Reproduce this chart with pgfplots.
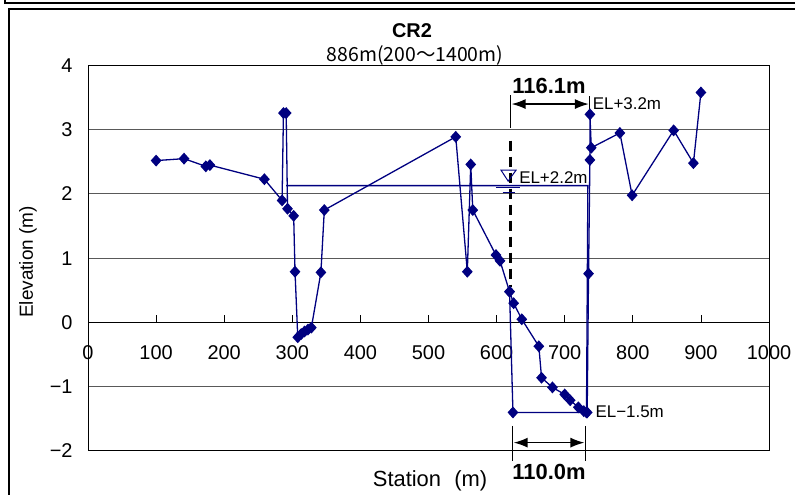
\documentclass[border=0pt]{standalone}
\usepackage{fontspec}
\setmainfont{Liberation Sans}
\newfontfamily\cjk{Noto Sans CJK JP}
\usepackage{pgfplots}
\pgfplotsset{compat=1.18}
\usetikzlibrary{arrows.meta}
\definecolor{navy}{RGB}{0,0,128}

\pgfplotstableread{
x y
100 2.52
141 2.55
173 2.43
179 2.45
259 2.23
285 1.90
287 3.26
291 3.26
293 1.77
302 1.66
304 0.79
308 -0.23
313 -0.18
318 -0.14
323 -0.11
328 -0.08
342 0.78
347 1.75
540 2.89
557 0.79
562 2.46
565 1.75
599 1.05
605 0.96
619 0.48
625 0.30
637 0.05
662 -0.37
666 -0.86
682 -1.01
700 -1.12
708 -1.21
720 -1.32
728 -1.38
733 -1.40
735 0.76
737 2.53
737 3.24
739 2.72
781 2.95
799 1.98
860 2.99
889 2.48
900 3.58
}\terrain

\pgfplotstableread{
x y
619 0.48
624 -1.40
732 -1.40
}\channel

\pgfplotstableread{
x y
732 -1.40
734 2.13
291 2.13
}\water

\begin{document}
\begin{tikzpicture}[x=1bp,y=1bp]
\useasboundingbox (0,0) rectangle (795,495);
\draw[line width=1.2bp] (9,0) -- (9,486) -- (795,486);
\draw[line width=1.2bp] (5,495) -- (5,492) -- (795,492);
\begin{axis}[
  at={(88bp,44bp)}, anchor=south west,
  width=681bp, height=385.5bp, scale only axis,
  xmin=0, xmax=1000, ymin=-2, ymax=4,
  axis x line*=middle, axis y line*=left,
  axis line style={line width=1bp, black},
  xtick={0,100,...,1000},
  xticklabels={0,100,200,300,400,500,600,700,800,900,1000},
  ytick={-2,-1,0,1,2,3,4},
  yticklabels={−2,−1,0,1,2,3,4},
  xtick align=inside,
  major tick length=7bp,
  xtick style={black, line width=0.8bp},
  ytick style={draw=none},
  ymajorgrids,
  grid style={black!65, line width=1bp},
  tick label style={font=\fontsize{20}{20}\selectfont},
  xticklabel style={anchor=north, yshift=-20bp},
  yticklabel style={anchor=east, xshift=-12bp},
  clip=false,
]
\draw[line width=1bp, black] (rel axis cs:0,0) rectangle (rel axis cs:1,1);
\node[anchor=north, font=\fontsize{20}{20}\selectfont, yshift=-20bp] at (axis cs:0,0) {0};
\addplot[navy, line width=1.3bp, mark=diamond*, mark size=5bp, mark options={fill=navy, draw=navy, xscale=1.2}] table[x=x,y=y] {\terrain};
\addplot[navy, line width=1.3bp, mark=diamond*, mark size=5bp, mark options={fill=navy, draw=navy, xscale=1.2}] table[x=x,y=y] {\channel};
\addplot[navy, line width=1.3bp, mark=none] table[x=x,y=y] {\water};
% dashed reference line
\draw[black, line width=3bp, dash pattern=on 10bp off 6bp] (axis cs:621,2.83) -- (axis cs:621,0.55);
% top dimension
\draw[black, line width=1bp] (axis cs:621,3.54) -- (axis cs:621,3.03);
\draw[black, line width=1bp] (axis cs:736.5,3.52) -- (axis cs:736.5,3.30);
\draw[black, line width=1.5bp, {Latex[length=14bp,width=10bp]}-{Latex[length=14bp,width=10bp]}] (axis cs:622,3.40) -- (axis cs:735.5,3.40);
\node[font=\bfseries\fontsize{22}{22}\selectfont] at (axis cs:677,3.68) {116.1m};
\node[anchor=west, font=\fontsize{17}{17}\selectfont, inner sep=0pt] at (axis cs:741,3.40) {EL+3.2m};
% water level symbol
\draw[navy, line width=1bp] (axis cs:606.5,2.37) -- (axis cs:628.5,2.37) -- (axis cs:617,2.20) -- cycle;
\draw[navy, line width=1bp] (axis cs:599,2.10) -- (axis cs:634,2.10);
\draw[navy, line width=1bp] (axis cs:609,2.02) -- (axis cs:627,2.02);
\node[anchor=west, font=\fontsize{17}{17}\selectfont, inner sep=0pt] at (axis cs:633,2.26) {EL+2.2m};
% bottom dimension
\draw[black, line width=1bp] (axis cs:624,-1.61) -- (axis cs:624,-2.16);
\draw[black, line width=1bp] (axis cs:730,-1.61) -- (axis cs:730,-2.16);
\draw[black, line width=1.5bp, {Latex[length=14bp,width=10bp]}-{Latex[length=14bp,width=10bp]}] (axis cs:625,-1.87) -- (axis cs:729,-1.87);
\node[font=\bfseries\fontsize{22}{22}\selectfont] at (axis cs:677,-2.33) {110.0m};
\node[anchor=west, font=\fontsize{17}{17}\selectfont, inner sep=0pt] at (axis cs:745,-1.39) {EL−1.5m};
\end{axis}
\node[font=\bfseries\fontsize{20}{20}\selectfont] at (412,464) {CR2};
\node[font=\cjk\fontsize{19.5}{19.5}\selectfont] at (415,440) {886m(200～1400m)};
\node[rotate=90, font=\fontsize{19}{19}\selectfont] at (28,233) {Elevation (m)};
\node[font=\fontsize{22}{22}\selectfont] at (430,14) {Station\hspace{0.6em}(m)};
\end{tikzpicture}
\end{document}
